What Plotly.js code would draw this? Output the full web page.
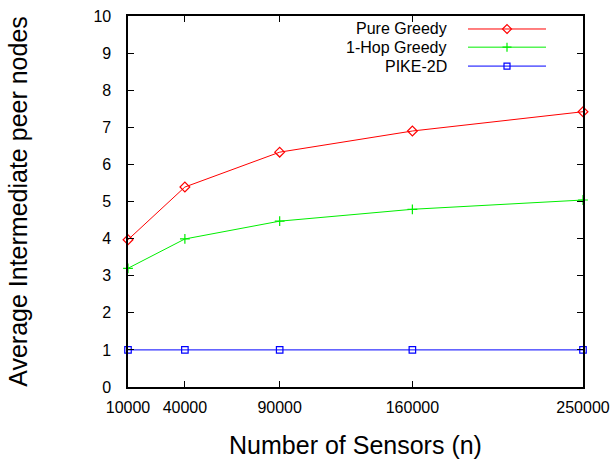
<!DOCTYPE html>
<html>
<head>
<meta charset="utf-8">
<script src="https://cdn.plot.ly/plotly-3.0.1.min.js"></script>
<style>html,body{margin:0;padding:0;background:#fff;}#chart{width:612px;height:459px;}</style>
</head>
<body>
<div id="chart"></div>
<script>
const sensors = [10000, 40000, 90000, 160000, 250000];
const pureGreedy = [3.97, 5.39, 6.33, 6.90, 7.42];
const oneHopGreedy = [3.2, 3.99, 4.47, 4.79, 5.04];
const pike2D = [1, 1, 1, 1, 1];
const seriesNames = ['Pure Greedy', '1-Hop Greedy', 'PIKE-2D'];
const seriesColors = ['#ff0000', '#00ee00', '#0000ff'];
const xTickVals = [10000, 40000, 90000, 160000, 250000];
const xTickText = ['10000', '40000', '90000', '160000', '250000'];
const yTickVals = [0,1,2,3,4,5,6,7,8,9,10];

const FONT = 'Liberation Sans, Arial, Helvetica, sans-serif';

const traces = [
  {x: sensors, y: pureGreedy, name: seriesNames[0], mode: 'lines+markers',
   line: {color: seriesColors[0], width: 1},
   marker: {symbol: 'diamond-open', size: 7.5, color: seriesColors[0], line: {width: 1.2}}, cliponaxis: false},
  {x: sensors, y: oneHopGreedy, name: seriesNames[1], mode: 'lines+markers',
   line: {color: seriesColors[1], width: 1},
   marker: {symbol: 'cross-thin-open', size: 7, color: seriesColors[1], line: {width: 1.2, color: seriesColors[1]}}, cliponaxis: false},
  {x: sensors, y: pike2D, name: seriesNames[2], mode: 'lines+markers',
   line: {color: seriesColors[2], width: 1},
   marker: {symbol: 'square-open', size: 6.5, color: seriesColors[2], line: {width: 1.2}}, cliponaxis: false}
];

// custom gnuplot-style legend (text right, sample on the right)
const legendY = [0.965, 0.916, 0.865];
const markerPaths = [
  'M0,-4.5 L4.5,0 L0,4.5 L-4.5,0 Z',
  'M-4.5,0 L4.5,0 M0,-4.5 L0,4.5',
  'M-3,-3 L3,-3 L3,3 L-3,3 Z'
];
const annotations = [];
const shapes = [];
const plotL = 128, plotW = 455;
function px(x){ return (x - plotL) / plotW; }
for (let i = 0; i < 3; i++) {
  annotations.push({xref: 'paper', yref: 'paper', x: px(449), y: legendY[i], xanchor: 'right', yanchor: 'middle',
    text: seriesNames[i], showarrow: false, font: {family: FONT, size: 16, color: '#000'}});
  shapes.push({type: 'line', xref: 'paper', yref: 'paper', x0: px(468), x1: px(546), y0: legendY[i], y1: legendY[i],
    line: {color: seriesColors[i], width: 1}});
  shapes.push({type: 'path', xref: 'paper', yref: 'paper', xsizemode: 'pixel', ysizemode: 'pixel',
    xanchor: px(507), yanchor: legendY[i], path: markerPaths[i],
    line: {color: seriesColors[i], width: 1.2}, fillcolor: 'rgba(0,0,0,0)'});
}

const layout = {
  width: 612, height: 459,
  margin: {l: 128, r: 29, t: 16, b: 72},
  paper_bgcolor: '#fff', plot_bgcolor: '#fff',
  showlegend: false,
  font: {family: FONT, size: 16, color: '#000'},
  xaxis: {
    range: [10000, 250000], tickvals: xTickVals, ticktext: xTickText,
    ticks: 'inside', ticklen: 6, tickwidth: 1, tickcolor: '#000',
    showline: true, linecolor: '#000', linewidth: 1.6, mirror: 'ticks',
    showgrid: false, zeroline: false, ticklabelstandoff: 5,
    tickfont: {family: FONT, size: 16},
    title: {text: 'Number of Sensors (n)', font: {family: FONT, size: 25}, standoff: 22}
  },
  yaxis: {
    range: [0, 10], tickvals: yTickVals,
    ticks: 'inside', ticklen: 6, tickwidth: 1, tickcolor: '#000',
    showline: true, linecolor: '#000', linewidth: 1.6, mirror: 'ticks',
    showgrid: false, zeroline: false, ticklabelstandoff: 12,
    tickfont: {family: FONT, size: 16},
    title: {text: 'Average Intermediate peer nodes', font: {family: FONT, size: 25}, standoff: 58}
  },
  annotations: annotations,
  shapes: shapes
};

Plotly.newPlot('chart', traces, layout, {staticPlot: true, displayModeBar: false});
</script>
</body>
</html>
